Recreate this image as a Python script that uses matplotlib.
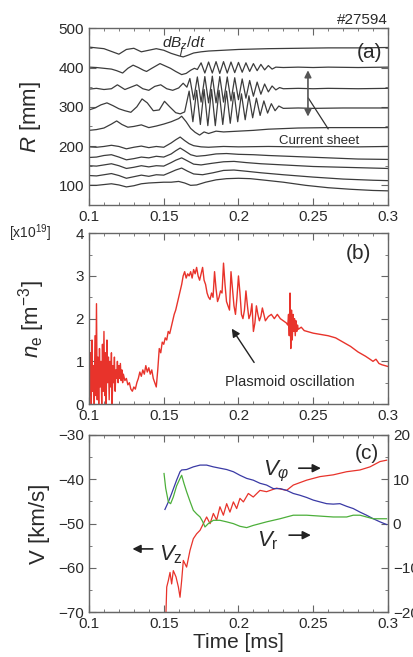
import matplotlib
matplotlib.use('Agg')
import matplotlib.pyplot as plt
from matplotlib.ticker import MultipleLocator, FuncFormatter

plt.rcParams['font.family'] = ['Liberation Sans', 'DejaVu Sans']
plt.rcParams['mathtext.fontset'] = 'custom'
plt.rcParams['mathtext.rm'] = 'Liberation Sans'
plt.rcParams['mathtext.it'] = 'Liberation Sans:italic'

# ---- panel (a): dBz/dt probe traces (t [ms], R [mm]) ----
tr1_t = [0.100, 0.105, 0.110, 0.115, 0.120, 0.125, 0.130, 0.135, 0.140, 0.145, 0.150, 0.155, 0.160, 0.163,
         0.166, 0.170, 0.175, 0.180, 0.190, 0.200, 0.210, 0.220, 0.240, 0.260, 0.280, 0.300]
tr1_r = [452, 450, 448, 441, 434, 446, 449, 440, 444, 448, 444, 436, 430, 427,
         431, 437, 440, 442, 444, 446, 447, 448, 449, 450, 450, 451]

tr2_t = [0.100, 0.105, 0.110, 0.115, 0.1185, 0.1225, 0.126, 0.1295, 0.133, 0.1365, 0.1385, 0.142, 0.1475,
         0.151, 0.1545, 0.158, 0.162, 0.165, 0.168, 0.1705,
         0.1725, 0.175, 0.1775, 0.180, 0.1825, 0.185, 0.1875, 0.190, 0.1925, 0.195, 0.1975, 0.200, 0.2025,
         0.205, 0.2075, 0.210, 0.2125, 0.215, 0.2175, 0.220, 0.2225, 0.225, 0.230, 0.240, 0.250, 0.260,
         0.280, 0.300]
tr2_r = [401, 400, 398, 396, 392, 386, 398, 406, 400, 393, 390, 398, 410,
         404, 398, 390, 382, 385, 393, 398,
         395, 412, 386, 414, 386, 415, 385, 415, 386, 414, 387, 413, 388,
         412, 390, 410, 392, 408, 394, 405, 396, 401, 400, 401, 400, 401,
         400, 401]

tr3_t = [0.100, 0.105, 0.110, 0.115, 0.119, 0.124, 0.128, 0.132, 0.136, 0.140, 0.144, 0.148, 0.152, 0.156,
         0.160, 0.163, 0.1655,
         0.1675, 0.170, 0.1725, 0.175, 0.1775, 0.180, 0.1825, 0.185, 0.1875, 0.190, 0.1925, 0.195, 0.1975,
         0.200, 0.2025, 0.205, 0.2075, 0.210, 0.2125, 0.215, 0.2175, 0.220, 0.2225, 0.225, 0.2275, 0.230,
         0.240, 0.250, 0.260, 0.280, 0.300]
tr3_r = [345, 347, 344, 346, 356, 344, 350, 356, 346, 342, 352, 356, 346, 342,
         348, 360, 350,
         372, 318, 376, 312, 377, 310, 378, 310, 377, 312, 376, 315, 374,
         318, 371, 322, 367, 327, 363, 332, 358, 338, 353, 343, 349, 346,
         347, 346, 347, 346, 347]

tr4_t = [0.100, 0.104, 0.108, 0.112, 0.116, 0.120, 0.124, 0.128, 0.132, 0.1355, 0.139, 0.143, 0.147,
         0.1505, 0.154, 0.158, 0.161, 0.164,
         0.167, 0.1695, 0.172, 0.1745, 0.177, 0.1795, 0.182, 0.1845, 0.187, 0.1895, 0.192, 0.1945, 0.197,
         0.1995, 0.202, 0.2045, 0.207, 0.2095, 0.212, 0.2145, 0.217, 0.2195, 0.222, 0.2245, 0.227, 0.230,
         0.240, 0.250, 0.270, 0.300]
tr4_r = [292, 297, 305, 310, 303, 295, 290, 286, 300, 320, 310, 290, 292,
         314, 300, 285, 282, 287,
         340, 262, 342, 255, 344, 252, 344, 252, 342, 255, 340, 258, 337,
         262, 333, 267, 328, 272, 322, 278, 315, 284, 308, 290, 302, 296,
         297, 296, 297, 297]

tr5_t = [0.100, 0.105, 0.110, 0.115, 0.1185, 0.122, 0.126, 0.130, 0.135, 0.140, 0.145, 0.150, 0.155, 0.160,
         0.162, 0.165, 0.168, 0.171, 0.174, 0.177, 0.180, 0.185, 0.190, 0.200, 0.210, 0.220, 0.240, 0.260,
         0.280, 0.300]
tr5_r = [240, 242, 246, 256, 264, 255, 248, 250, 254, 247, 251, 256, 262, 270,
         276, 262, 245, 235, 228, 236, 232, 238, 236, 238, 240, 243, 246, 247,
         247, 247]

tr6_t = [0.100, 0.105, 0.110, 0.115, 0.120, 0.125, 0.130, 0.135, 0.140, 0.145, 0.150, 0.155, 0.158, 0.161,
         0.164, 0.167, 0.170, 0.175, 0.180, 0.190, 0.200, 0.220, 0.240, 0.260, 0.280, 0.300]
tr6_r = [198, 197, 199, 202, 199, 193, 197, 200, 196, 199, 197, 208, 216, 223,
         214, 206, 201, 198, 197, 199, 198, 199, 198, 199, 198, 199]

tr7_t = [0.100, 0.105, 0.110, 0.115, 0.120, 0.125, 0.130, 0.135, 0.140, 0.145, 0.150, 0.155, 0.158, 0.161,
         0.164, 0.168, 0.172, 0.178, 0.185, 0.192, 0.200, 0.210, 0.220, 0.240, 0.260, 0.280, 0.300]
tr7_r = [171, 172, 176, 178, 172, 165, 168, 172, 170, 174, 172, 180, 188, 195,
         188, 178, 174, 176, 180, 181, 179, 178, 176, 173, 170, 167, 166]

tr8_t = [0.100, 0.105, 0.110, 0.115, 0.120, 0.125, 0.130, 0.135, 0.140, 0.145, 0.150, 0.155, 0.158, 0.162,
         0.166, 0.170, 0.175, 0.182, 0.190, 0.197, 0.205, 0.215, 0.230, 0.250, 0.270, 0.290, 0.300]
tr8_r = [150, 149, 152, 155, 150, 143, 146, 150, 147, 150, 149, 158, 164, 170,
         162, 154, 152, 156, 160, 161, 158, 155, 152, 148, 146, 144, 143]

tr9_t = [0.100, 0.105, 0.110, 0.115, 0.120, 0.125, 0.130, 0.135, 0.140, 0.145, 0.150, 0.155, 0.158, 0.162,
         0.166, 0.170, 0.176, 0.183, 0.190, 0.197, 0.205, 0.215, 0.230, 0.250, 0.270, 0.290, 0.300]
tr9_r = [125, 124, 127, 130, 125, 118, 122, 126, 123, 127, 126, 134, 139, 144,
         136, 129, 127, 132, 138, 139, 136, 132, 127, 121, 116, 113, 112]

tr10_t = [0.100, 0.105, 0.110, 0.115, 0.120, 0.125, 0.130, 0.135, 0.140, 0.145, 0.150, 0.155, 0.160, 0.164,
          0.168, 0.172, 0.178, 0.185, 0.192, 0.200, 0.208, 0.218, 0.230, 0.245, 0.260, 0.275, 0.290, 0.300]
tr10_r = [100, 100, 102, 104, 101, 96, 99, 104, 106, 107, 108, 108, 110, 106,
          100, 101, 108, 114, 117, 118, 117, 113, 108, 100, 94, 90, 87, 86]

traces = [(tr1_t, tr1_r), (tr2_t, tr2_r), (tr3_t, tr3_r), (tr4_t, tr4_r), (tr5_t, tr5_r),
          (tr6_t, tr6_r), (tr7_t, tr7_r), (tr8_t, tr8_r), (tr9_t, tr9_r), (tr10_t, tr10_r)]

# ---- panel (b): electron density [x1e19 m^-3] ----
ne_t = [0.1000, 0.1005, 0.1010, 0.1015, 0.1020, 0.1025, 0.1030, 0.1035, 0.1040, 0.1045, 0.1050, 0.1055,
        0.1060, 0.1065, 0.1070, 0.1075, 0.1080, 0.1085, 0.1090, 0.1095, 0.1100, 0.1105, 0.1110, 0.1115,
        0.1120, 0.1125, 0.1130, 0.1135, 0.1140, 0.1145, 0.1150, 0.1155, 0.1160, 0.1165, 0.1170, 0.1175,
        0.1180, 0.1185, 0.1190, 0.1195, 0.1200, 0.1205, 0.1210, 0.1215, 0.1220, 0.1225, 0.1230, 0.124,
        0.125, 0.126, 0.127, 0.128, 0.129, 0.130, 0.131, 0.132, 0.133, 0.134, 0.135, 0.136, 0.137, 0.138,
        0.139, 0.140, 0.141, 0.142, 0.143, 0.144, 0.145, 0.146, 0.147, 0.148, 0.149, 0.150, 0.151, 0.152,
        0.153, 0.154, 0.155, 0.156, 0.157, 0.158, 0.159, 0.160, 0.161, 0.162, 0.163, 0.164, 0.165, 0.166,
        0.167, 0.168, 0.169, 0.170, 0.171, 0.172,
        0.173, 0.174, 0.175, 0.176, 0.177, 0.178, 0.179, 0.180, 0.181, 0.182, 0.183, 0.184, 0.185, 0.186,
        0.187, 0.188, 0.189, 0.190, 0.191, 0.192, 0.193, 0.194, 0.195, 0.196, 0.197, 0.198, 0.199, 0.200,
        0.201, 0.202, 0.203, 0.204, 0.205, 0.206, 0.207, 0.208, 0.209, 0.210, 0.211, 0.212, 0.213, 0.214,
        0.215, 0.216, 0.217, 0.218, 0.219, 0.220, 0.222, 0.224, 0.226, 0.228, 0.230, 0.232, 0.233, 0.2335,
        0.234, 0.2345, 0.235, 0.2355, 0.236, 0.2365, 0.237, 0.2375, 0.238, 0.2385, 0.239, 0.2395, 0.240,
        0.242, 0.244, 0.246, 0.248, 0.250, 0.255, 0.260, 0.265, 0.270, 0.275, 0.280, 0.285, 0.288, 0.290,
        0.292, 0.294, 0.296, 0.298, 0.300]
ne_v = [1.9, 0.2, 1.2, 0.0, 1.5, 0.3, 0.9, 0.0, 1.6, 0.2, 2.35, 0.1,
        1.1, 0.0, 1.3, 0.4, 1.0, 0.0, 1.4, 0.3, 1.7, 0.2, 1.2, 0.0,
        1.5, 0.5, 1.1, 0.1, 1.0, 0.4, 1.2, 0.0, 0.9, 0.5, 1.1, 0.3,
        0.8, 0.6, 1.0, 0.5, 0.9, 0.6, 0.95, 0.55, 0.8, 0.5, 0.7, 0.55,
        0.6, 0.45, 0.5, 0.35, 0.3, 0.4, 0.35, 0.5, 0.6, 0.75, 0.65, 0.8, 0.7, 0.9,
        0.75, 0.85, 0.7, 0.8, 0.6, 0.5, 0.4, 0.8, 1.3, 1.2, 1.45, 1.4, 1.55, 1.5,
        1.7, 1.65, 1.8, 1.95, 2.1, 2.2, 2.35, 2.5, 2.65, 2.8, 3.0, 3.1, 2.95, 3.05,
        3.0, 3.1, 2.95, 3.15, 3.05, 3.2,
        3.0, 2.9, 3.05, 3.2, 2.9, 2.8, 2.6, 2.5, 2.45, 2.6, 2.5, 3.1, 2.7, 2.4,
        2.5, 2.65, 2.6, 3.3, 2.8, 2.4, 2.3, 2.2, 3.1, 2.7, 2.3, 2.1, 2.5, 3.0,
        2.6, 2.1, 2.0, 2.2, 2.65, 2.3, 2.0, 2.1, 2.35, 1.7, 1.9, 2.3, 2.1, 1.95,
        2.05, 2.25, 2.1, 1.95, 2.0, 2.05, 2.1, 2.0, 2.1, 2.0, 1.95, 1.9, 1.85, 2.1,
        1.6, 2.6, 1.3, 2.2, 1.5, 2.1, 1.7, 2.0, 1.6, 1.95, 1.7, 1.85, 1.75,
        1.8, 1.72, 1.7, 1.68, 1.66, 1.63, 1.6, 1.55, 1.45, 1.35, 1.22, 1.12, 1.05, 1.0,
        1.05, 0.95, 0.92, 0.9, 0.88]

# ---- panel (c): flow velocities [km/s] ----
vz_t = [0.1515, 0.1520, 0.1531, 0.1542, 0.1553, 0.1564, 0.1582, 0.1598, 0.1609, 0.1620, 0.1631, 0.1653,
        0.1676, 0.1698, 0.1720, 0.1743, 0.1765, 0.1787, 0.1810, 0.1832, 0.1854, 0.1876, 0.1899, 0.1921,
        0.1943, 0.1966, 0.1988, 0.2010, 0.2033, 0.2066, 0.2099, 0.2144, 0.2188, 0.2255, 0.2322, 0.2367,
        0.2456, 0.2545, 0.2634, 0.2723, 0.2813, 0.2880, 0.2947, 0.2991]
vz_v = [-70, -64.3, -62.8, -61, -63.6, -60.6, -62, -64.3, -66.6, -62.8, -58.3, -59.8,
        -56, -53.4, -52.3, -51.5, -50, -48.5, -50, -47.7, -49.2, -46.2, -48.1, -45.5,
        -47.4, -45.1, -46.6, -44.3, -45.1, -43.2, -44, -42.5, -42.8, -42, -42.5, -41.3,
        -40.2, -39.4, -39, -38.3, -37.9, -37.2, -36, -35.7]

vphi_t = [0.1508, 0.1531, 0.1553, 0.1586, 0.1609, 0.1620, 0.1653, 0.1698, 0.1743, 0.1787, 0.1832, 0.1876,
          0.1921, 0.1966, 0.2010, 0.2055, 0.2099, 0.2144, 0.2188, 0.2233, 0.2278, 0.2322, 0.2367, 0.2411,
          0.2456, 0.2501, 0.2545, 0.2590, 0.2634, 0.2679, 0.2724, 0.2768, 0.2813, 0.2857, 0.2902, 0.2947,
          0.2991]
vphi_v = [3.2, 4.9, 6.8, 9.8, 11.7, 12.1, 12.2, 12.8, 13.2, 13.2, 12.8, 12.5,
          12.2, 11.7, 10.9, 10.2, 9.8, 9.1, 8.7, 7.9, 7.9, 7.5, 6.8, 6.4,
          5.9, 5.3, 4.9, 4.5, 4.4, 4.5, 3.9, 3.4, 2.6, 1.9, 1.1, 0.4,
          -0.2]

vr_t = [0.1502, 0.1513, 0.1531, 0.1546, 0.1564, 0.1586, 0.1609, 0.1620, 0.1636, 0.1653, 0.1676, 0.1698,
        0.1720, 0.1743, 0.1760, 0.1776, 0.1798, 0.1832, 0.1876, 0.1921, 0.1966, 0.2010, 0.2055, 0.2099,
        0.2144, 0.2188, 0.2233, 0.2278, 0.2322, 0.2367, 0.2456, 0.2545, 0.2634, 0.2724, 0.2768, 0.2813,
        0.2857, 0.2902, 0.2947, 0.2991]
vr_v = [11.3, 8, 4.9, 4.5, 6, 8.5, 10.2, 10.9, 9, 7.2, 5, 3,
        2.2, 1.5, 0.5, -0.75, 0, 0.75, 0.75, 0.4, 0, -0.6, -0.9, -0.4,
        0, 0.4, 0.75, 1.1, 1.5, 1.9, 1.9, 1.7, 1.5, 1.5, 1.9, 1.9,
        1.5, 1.1, 1.1, 1.1]

xticks = [0.1, 0.15, 0.2, 0.25, 0.3]
spine_c = '#666666'
txt_c = '#2a2a2a'

fig = plt.figure(figsize=(4.14, 6.57), dpi=100)
ax_a = fig.add_axes([0.215, 0.688, 0.722, 0.269])
ax_b = fig.add_axes([0.215, 0.385, 0.722, 0.260])
ax_c = fig.add_axes([0.215, 0.068, 0.722, 0.270])


def style(ax, right=True):
    for s in ax.spines.values():
        s.set_color(spine_c)
        s.set_linewidth(1.0)
    ax.set_xlim(0.1, 0.3)
    ax.set_xticks(xticks)
    ax.xaxis.set_minor_locator(MultipleLocator(0.01))
    ax.xaxis.set_major_formatter(FuncFormatter(lambda v, p: '%g' % v))
    ax.tick_params(which='both', direction='in', top=True, right=right, colors=spine_c,
                   labelcolor=txt_c, labelsize=11)
    ax.tick_params(which='major', length=5)
    ax.tick_params(which='minor', length=2.5)


# panel (a)
for t, r in traces:
    ax_a.plot(t, r, color='#3c3c3c', lw=0.9)
style(ax_a)
ax_a.set_ylim(50, 500)
ax_a.set_yticks([100, 200, 300, 400, 500])
ax_a.yaxis.set_minor_locator(MultipleLocator(50))
ax_a.set_ylabel('$R$ [mm]', fontsize=16, color=txt_c)
ax_a.yaxis.set_label_coords(-0.155, 0.5)
ax_a.text(0.1635, 461, '$dB_z/dt$', fontsize=11, ha='center', va='center', color=txt_c)
ax_a.plot([0.1625, 0.1612], [452, 431], color='#3c3c3c', lw=0.8)
ax_a.text(0.288, 439, '(a)', fontsize=15, ha='center', va='center', color=txt_c)
ax_a.text(1.0, 1.005, '#27594', transform=ax_a.transAxes, fontsize=11, ha='right', va='bottom',
          color=txt_c)
ax_a.annotate('', xy=(0.2465, 268), xytext=(0.2465, 400),
              arrowprops=dict(arrowstyle='<|-|>', color='#555555', lw=1.2, mutation_scale=10))
ax_a.plot([0.2468, 0.2600], [322, 244], color='#333333', lw=0.9)
ax_a.text(0.2540, 214, 'Current sheet', fontsize=9.5, ha='center', va='center', color=txt_c)

# panel (b)
ax_b.plot(ne_t, ne_v, color='#e8332b', lw=1.0)
style(ax_b)
ax_b.set_ylim(0, 4)
ax_b.set_yticks([0, 1, 2, 3, 4])
ax_b.yaxis.set_minor_locator(MultipleLocator(0.5))
ax_b.set_ylabel('$n_{\\rm e}$ [m$^{-3}$]', fontsize=16, color=txt_c)
ax_b.yaxis.set_label_coords(-0.14, 0.5)
ax_b.text(0.280, 3.53, '(b)', fontsize=15, ha='center', va='center', color=txt_c)
fig.text(0.022, 1 - 233 / 657, '[x10$^{19}$]', fontsize=10, ha='left', va='center', color=txt_c)
ax_b.annotate('', xy=(0.1945, 1.82), xytext=(0.2115, 0.92),
              arrowprops=dict(arrowstyle='-|>', color='#222222', lw=1.0, mutation_scale=12))
ax_b.text(0.2345, 0.52, 'Plasmoid oscillation', fontsize=10.5, ha='center', va='center', color=txt_c)

# panel (c)
ax_c.plot(vz_t, vz_v, color='#e8332b', lw=0.9)
style(ax_c, right=False)
ax_c.set_ylim(-70, -30)
ax_c.set_yticks([-70, -60, -50, -40, -30])
ax_c.yaxis.set_minor_locator(MultipleLocator(5))
ax_c.set_ylabel('V [km/s]', fontsize=16, color=txt_c)
ax_c.yaxis.set_label_coords(-0.13, 0.5)
ax_c.set_xlabel('Time [ms]', fontsize=15, color=txt_c, labelpad=1)
ax_r = ax_c.twinx()
ax_r.plot(vphi_t, vphi_v, color='#3a3aa5', lw=0.9)
ax_r.plot(vr_t, vr_v, color='#4caf3a', lw=0.9)
ax_r.set_ylim(-20, 20)
ax_r.set_yticks([-20, -10, 0, 10, 20])
ax_r.yaxis.set_minor_locator(MultipleLocator(5))
for s in ax_r.spines.values():
    s.set_color(spine_c)
ax_r.tick_params(which='both', direction='in', colors=spine_c, labelcolor=txt_c, labelsize=11)
ax_r.tick_params(which='major', length=5)
ax_r.tick_params(which='minor', length=2.5)
ax_r.set_xlim(0.1, 0.3)

ax_c.text(0.286, -34.1, '(c)', fontsize=15, ha='center', va='center', color=txt_c)
ax_c.text(0.2255, -38.3, '$V_{φ}$', fontsize=16, ha='center', va='center', color=txt_c)
ax_c.annotate('', xy=(0.2570, -37.5), xytext=(0.2385, -37.5),
              arrowprops=dict(arrowstyle='-|>', color='#222222', lw=1.2, mutation_scale=12))
ax_c.text(0.2195, -53.8, '$V_{\\rm r}$', fontsize=16, ha='center', va='center', color=txt_c)
ax_c.annotate('', xy=(0.2503, -52.6), xytext=(0.2320, -52.6),
              arrowprops=dict(arrowstyle='-|>', color='#222222', lw=1.2, mutation_scale=12))
ax_c.text(0.1545, -57.0, '$V_{\\rm z}$', fontsize=16, ha='center', va='center', color=txt_c)
ax_c.annotate('', xy=(0.1272, -55.7), xytext=(0.1445, -55.7),
              arrowprops=dict(arrowstyle='-|>', color='#222222', lw=1.2, mutation_scale=12))

fig.savefig('out.png', dpi=100)
